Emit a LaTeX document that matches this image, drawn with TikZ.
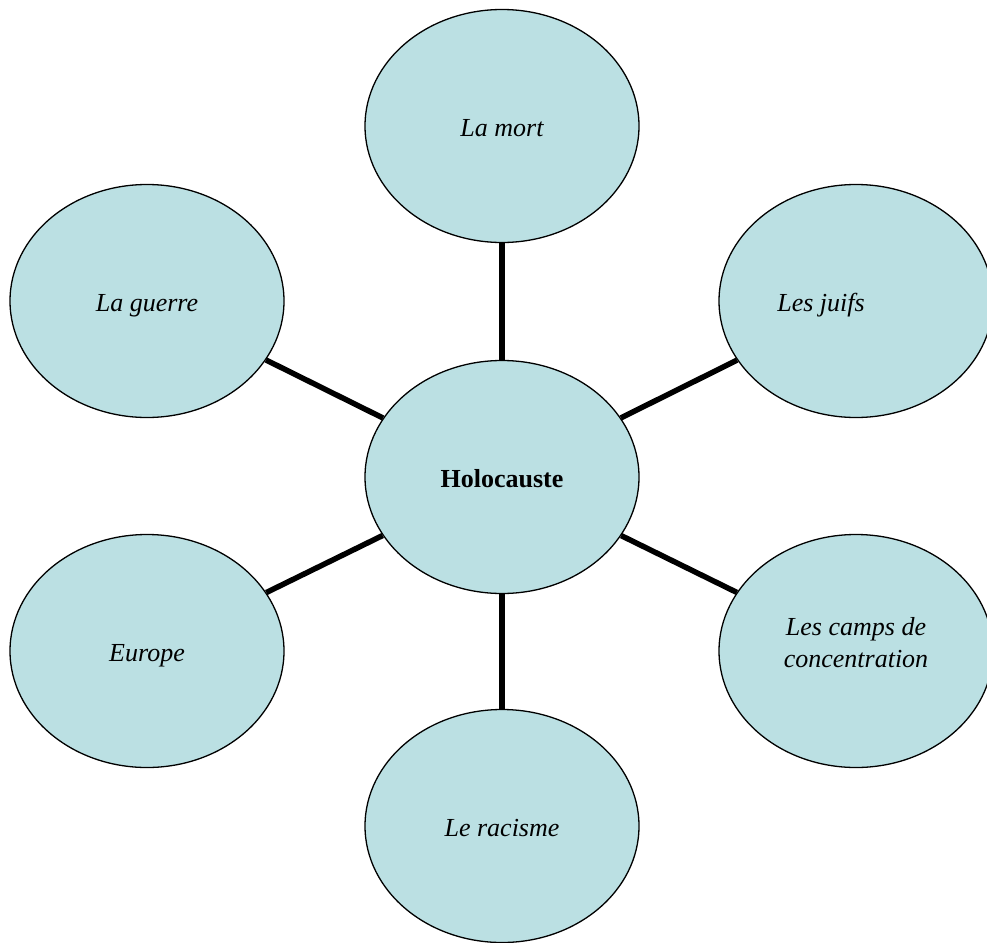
\documentclass[tikz,border=0pt]{standalone}
\usepackage{fontspec}
\setmainfont{Liberation Serif}
\usetikzlibrary{shapes.geometric}
\definecolor{bubblefill}{RGB}{187,224,227}
\tikzset{
  bubble/.style={ellipse, draw=black, line width=1.3pt, fill=bubblefill,
    minimum width=274pt, minimum height=233pt, inner sep=0pt,
    text height=21pt, text depth=0pt,
    font=\fontsize{26}{32}\selectfont\itshape},
  link/.style={line width=5.5pt, black}
}
\begin{document}
\begin{tikzpicture}[x=1pt,y=-1pt]
\useasboundingbox (0,0) rectangle (987,942);
\node[bubble, font=\fontsize{26}{32}\selectfont\bfseries] (holo) at (502,477) {Holocauste};
\node[bubble] (mort) at (502,126) {La mort};
\node[bubble] (juifs) at (856,301) {Les juifs\hspace*{70pt}};
\node[bubble] (guerre) at (147,301) {La guerre};
\node[bubble] (europe) at (147,651) {Europe};
\node[bubble, label={[yshift=8pt, align=center, font=\fontsize{26}{32}\selectfont\itshape]center:Les camps de\\concentration}] (camps) at (856,651) {};
\node[bubble] (racisme) at (502,826) {Le racisme};
\draw[link] (holo) -- (mort);
\draw[link] (holo) -- (juifs);
\draw[link] (holo) -- (guerre);
\draw[link] (holo) -- (europe);
\draw[link] (holo) -- (camps);
\draw[link] (holo) -- (racisme);
\end{tikzpicture}
\end{document}
